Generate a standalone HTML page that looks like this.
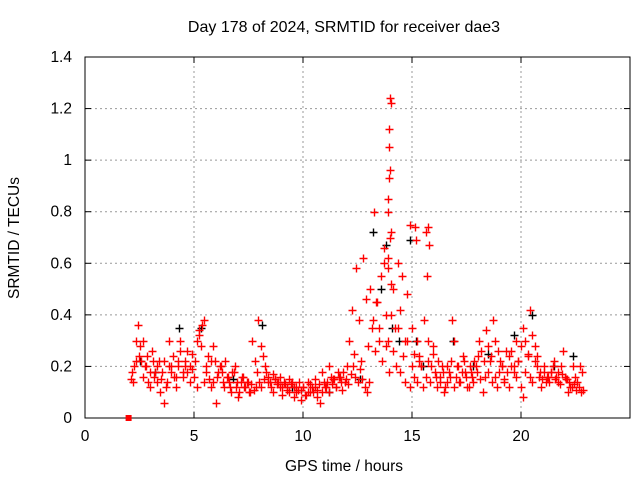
<!DOCTYPE html>
<html><head><meta charset="utf-8"><style>
html,body{margin:0;padding:0;background:#fff}
svg{display:block;font-family:"Liberation Sans",sans-serif}
</style></head><body>
<svg id="c" width="640" height="480" viewBox="0 0 640 480">
<rect width="640" height="480" fill="#fff"/>
<text x="344" y="32" text-anchor="middle" font-size="16">Day 178 of 2024, SRMTID for receiver dae3</text>
<text x="344" y="471" text-anchor="middle" font-size="15.5">GPS time / hours</text>
<text transform="translate(19,238) rotate(-90)" text-anchor="middle" font-size="15.5">SRMTID / TECUs</text>
<g id="grid"></g>
<g id="axes"></g>
<g id="black"></g>
<g id="red"></g>
</svg>
<script>
const xTicks=[0,5,10,15,20];
const yTicks=[0,0.2,0.4,0.6,0.8,1,1.2,1.4];
const yTickLabels=["0","0.2","0.4","0.6","0.8","1","1.2","1.4"];
const startHour=2.1, endHour=22.8;
const redA=[0.15,0.14,0.22,0.36,0.28,0.3,0.2,0.24,0.18,0.26,0.16,0.2,0.22,0.15,0.06,0.12,0.2,0.18,0.24,0.16,0.22,0.3,0.18,0.2,0.26,0.14,0.19,0.22,0.12,0.34,0.36,0.38,0.2,0.15,0.22,0.28,0.06,0.18,0.2,0.14,0.22,0.16,0.12,0.18,0.2,0.14,0.1,0.16,0.12,0.14,0.1,0.13,0.11,0.12,0.38,0.28,0.24,0.2,0.16,0.14,0.17,0.15,0.13,0.16,0.12,0.14,0.11,0.15,0.13,0.12,0.1,0.14,0.11,0.12,0.09,0.1,0.13,0.1,0.12,0.08,0.06,0.1,0.12,0.14,0.1,0.13,0.15,0.12,0.16,0.14,0.18,0.15,0.13,0.17,0.2,0.16,0.14,0.19,0.15,0.12,0.1,0.14,0.35,0.8,0.45,0.3,0.55,0.6,0.4,0.3,0.72,0.5,0.35,0.6,0.42,0.55,0.3,0.48,0.75,0.35,0.25,0.3,0.22,0.2,0.38,0.72,0.3,0.2,0.25,0.16,0.22,0.14,0.18,0.12,0.2,0.16,0.38,0.3,0.2,0.14,0.18,0.22,0.16,0.12,0.18,0.14,0.2,0.24,0.15,0.1,0.16,0.18,0.22,0.14,0.16,0.12,0.18,0.2,0.15,0.26,0.24,0.2,0.18,0.3,0.22,0.28,0.35,0.3,0.25,0.42,0.32,0.28,0.24,0.18,0.15,0.2,0.16,0.14,0.18,0.22,0.16,0.18,0.2,0.26,0.15,0.1,0.12,0.2,0.16,0.14,0.2,0.18];
const redB=[0.18,0.2,0.3,0.24,0.22,0.16,0.2,0.14,0.12,0.22,0.18,0.14,0.1,0.18,0.22,0.14,0.3,0.2,0.16,0.12,0.2,0.26,0.16,0.22,0.18,0.2,0.25,0.16,0.3,0.32,0.28,0.14,0.18,0.24,0.12,0.14,0.22,0.16,0.2,0.18,0.12,0.16,0.14,0.1,0.18,0.12,0.08,0.14,0.16,0.12,0.14,0.1,0.3,0.22,0.18,0.14,0.12,0.15,0.18,0.14,0.12,0.1,0.15,0.14,0.12,0.09,0.13,0.12,0.1,0.14,0.08,0.12,0.11,0.07,0.12,0.09,0.14,0.1,0.12,0.15,0.11,0.13,0.18,0.14,0.12,0.2,0.16,0.15,0.12,0.18,0.16,0.11,0.14,0.2,0.3,0.42,0.25,0.58,0.38,0.22,0.62,0.46,0.28,0.5,0.38,0.26,0.45,0.35,0.22,0.66,0.28,0.18,0.4,0.26,0.2,0.35,0.18,0.24,0.14,0.3,0.12,0.2,0.16,0.14,0.24,0.2,0.12,0.16,0.22,0.14,0.28,0.18,0.12,0.16,0.2,0.1,0.14,0.18,0.22,0.12,0.16,0.2,0.14,0.24,0.18,0.12,0.2,0.16,0.22,0.18,0.3,0.26,0.22,0.34,0.28,0.24,0.38,0.3,0.26,0.22,0.2,0.14,0.18,0.12,0.26,0.2,0.16,0.22,0.12,0.08,0.18,0.24,0.16,0.14,0.22,0.2,0.16,0.12,0.18,0.14,0.16,0.18,0.2,0.15,0.14,0.13,0.17,0.16,0.15,0.14,0.12,0.13,0.11,0.12,0.1,0.11];
const spikeTimes=[13.9,13.92,13.95,13.98,14.0,14.02,13.96,13.94,13.9,13.97,13.88,14.05,15.75,15.8,15.7,15.15,15.2];
const spikeValues=[0.8,0.85,0.93,0.96,1.24,1.22,1.12,1.05,0.62,0.7,0.58,0.52,0.74,0.67,0.55,0.74,0.69];
const blackTimes=[2.5,3.2,4.3,5.3,6.8,8.1,9.5,11.2,12.6,13.2,13.6,13.8,14.1,14.4,14.9,15.2,15.5,16.9,17.8,18.5,19.7,20.5,21.5,22.4];
const blackValues=[0.22,0.18,0.35,0.35,0.15,0.36,0.12,0.1,0.15,0.72,0.5,0.67,0.35,0.3,0.69,0.3,0.2,0.3,0.2,0.25,0.32,0.4,0.2,0.24];
const X0=85,X1=630,Y0=418,Y1=57,XMAX=25,YMAX=1.4;
const sx=v=>X0+(X1-X0)*v/XMAX, sy=v=>Y0-(Y0-Y1)*v/YMAX;
const NS="http://www.w3.org/2000/svg";
function mk(t,a,p){const e=document.createElementNS(NS,t);for(const k in a)e.setAttribute(k,a[k]);p.appendChild(e);return e;}
const grid=document.getElementById('grid'),axes=document.getElementById('axes');
xTicks.forEach(t=>{const x=sx(t);
 if(t>0){const l=mk('line',{x1:x,x2:x,y1:Y0,y2:Y1,stroke:'#999','stroke-dasharray':'2,3'},grid);}
 mk('line',{x1:x,x2:x,y1:Y0,y2:Y0-6,stroke:'#000'},axes);mk('line',{x1:x,x2:x,y1:Y1,y2:Y1+6,stroke:'#000'},axes);
 const tx=mk('text',{x:x,y:Y0+23,'text-anchor':'middle','font-size':'15.5'},axes);tx.textContent=t;
 });
yTicks.forEach((t,i)=>{const y=sy(t);
 if(t>0&&t<YMAX){const l=mk('line',{x1:X0,x2:X1,y1:y,y2:y,stroke:'#999','stroke-dasharray':'2,3'},grid);}
 mk('line',{x1:X0,x2:X0+6,y1:y,y2:y,stroke:'#000'},axes);mk('line',{x1:X1,x2:X1-6,y1:y,y2:y,stroke:'#000'},axes);
 const tx=mk('text',{x:X0-13,y:y+5,'text-anchor':'end','font-size':'15.5'},axes);tx.textContent=yTickLabels[i];
 });
mk('rect',{x:X0,y:Y1,width:X1-X0,height:Y0-Y1,fill:'none',stroke:'#000'},axes);
function plus(g,t,v,c){const x=Math.round(sx(t))+0.5,y=Math.round(sy(v))+0.5;
 const p=mk('path',{d:`M${x-4} ${y}H${x+4}M${x} ${y-4}V${y+4}`,stroke:c,'stroke-width':1.4,fill:'none'},g);
 }
const bg=document.getElementById('black'),rg=document.getElementById('red');
blackTimes.forEach((t,i)=>plus(bg,t,blackValues[i],'#000'));
const stepA=(endHour-startHour)/(redA.length-1), stepB=(endHour-startHour)/(redB.length-1);
redA.forEach((v,i)=>plus(rg,startHour+i*stepA,v,'#f00'));
redB.forEach((v,i)=>plus(rg,startHour+0.05+i*stepB,v,'#f00'));
spikeTimes.forEach((t,i)=>plus(rg,t,spikeValues[i],'#f00'));
const sq=mk('rect',{x:sx(2)-3,y:sy(0)-3,width:6,height:6,fill:'#f00'},rg);

</script>
</body></html>
